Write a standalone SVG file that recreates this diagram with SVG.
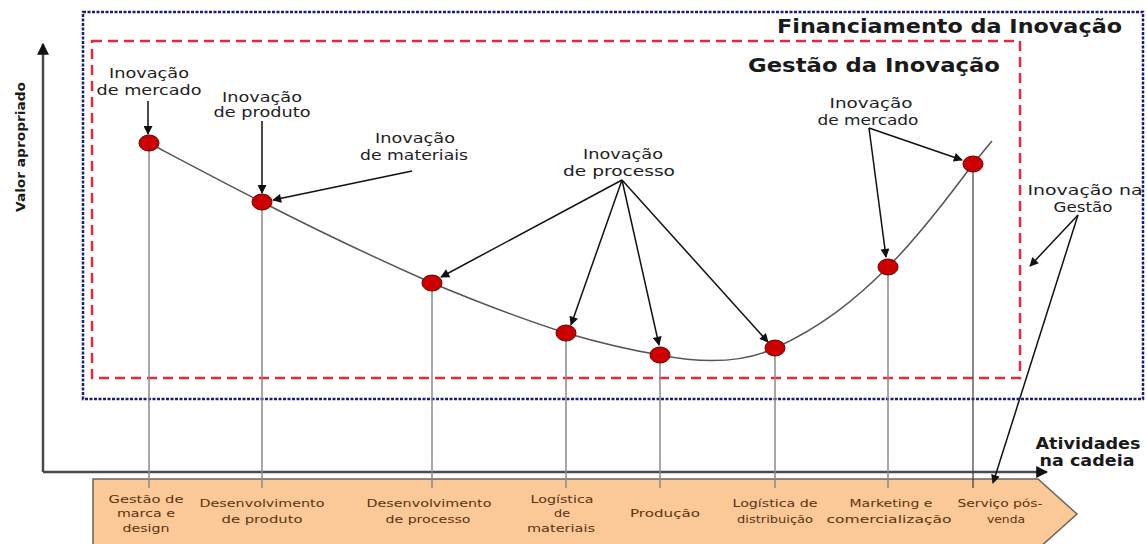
<svg xmlns="http://www.w3.org/2000/svg" width="1147" height="544" viewBox="0 0 1147 544">
<style>
.lbl{font-family:"DejaVu Sans","Verdana",sans-serif;font-size:14px;fill:#1e1e1e;text-anchor:middle}
.act{font-family:"DejaVu Sans","Verdana",sans-serif;font-size:11px;fill:#5a3410;text-anchor:middle}
.ttl{font-family:"DejaVu Sans","Verdana",sans-serif;font-weight:bold;fill:#1a1a1a}
.dot{fill:#cc0000;stroke:#6e0000;stroke-width:1}
.stem{stroke:#8a8a8a;stroke-width:1.5;fill:none}
.arr{stroke:#111;stroke-width:1.5;fill:none;marker-end:url(#ah)}
</style>
<defs>
<marker id="ah" viewBox="0 0 10 10" refX="9" refY="5" markerWidth="11" markerHeight="9" markerUnits="userSpaceOnUse" orient="auto">
<path d="M0,0 L10,5 L0,10 Z" fill="#111"/>
</marker>
<marker id="axh" viewBox="0 0 10 10" refX="9" refY="5" markerWidth="12" markerHeight="12" markerUnits="userSpaceOnUse" orient="auto">
<path d="M0,0 L10,5 L0,10 Z" fill="#111"/>
</marker>
</defs>
<rect width="1147" height="544" fill="#ffffff"/>

<g id="financiamento">
<rect x="83" y="12" width="1060" height="387" fill="none" stroke="#1c1c78" stroke-width="2.5" stroke-dasharray="3 1.5"/>
<text class="ttl" x="777" y="33" font-size="19" textLength="345" lengthAdjust="spacingAndGlyphs">Financiamento da Inovação</text>
</g>
<g id="gestao">
<rect x="92" y="41" width="928" height="337" fill="none" stroke="#e8283c" stroke-width="2.5" stroke-dasharray="10 6"/>
<text class="ttl" x="748" y="72" font-size="19" textLength="252" lengthAdjust="spacingAndGlyphs">Gestão da Inovação</text>
</g>

<g id="cadeia">
<path d="M93,479 L1038,479 L1077,514 L1038,549 L93,549 Z" fill="#fbc898" stroke="#6e6458" stroke-width="1.5"/>
<text class="act"><tspan x="146" y="503" textLength="75" lengthAdjust="spacingAndGlyphs">Gestão de</tspan><tspan x="146" y="517" textLength="58" lengthAdjust="spacingAndGlyphs">marca e</tspan><tspan x="146" y="532" textLength="47" lengthAdjust="spacingAndGlyphs">design</tspan></text>
<text class="act"><tspan x="262" y="507" textLength="125" lengthAdjust="spacingAndGlyphs">Desenvolvimento</tspan><tspan x="262" y="523" textLength="81" lengthAdjust="spacingAndGlyphs">de produto</tspan></text>
<text class="act"><tspan x="429" y="507" textLength="125" lengthAdjust="spacingAndGlyphs">Desenvolvimento</tspan><tspan x="428" y="523" textLength="85" lengthAdjust="spacingAndGlyphs">de processo</tspan></text>
<text class="act"><tspan x="562" y="503" textLength="63" lengthAdjust="spacingAndGlyphs">Logística</tspan><tspan x="562" y="517" textLength="16" lengthAdjust="spacingAndGlyphs">de</tspan><tspan x="561" y="532" textLength="68" lengthAdjust="spacingAndGlyphs">materiais</tspan></text>
<text class="act" x="665" y="517" textLength="70" lengthAdjust="spacingAndGlyphs">Produção</text>
<text class="act"><tspan x="775" y="507" textLength="85" lengthAdjust="spacingAndGlyphs">Logística de</tspan><tspan x="775" y="523" textLength="76" lengthAdjust="spacingAndGlyphs">distribuição</tspan></text>
<text class="act"><tspan x="891" y="507" textLength="83" lengthAdjust="spacingAndGlyphs">Marketing e</tspan><tspan x="889" y="523" textLength="125" lengthAdjust="spacingAndGlyphs">comercialização</tspan></text>
<text class="act"><tspan x="1000" y="507" textLength="85" lengthAdjust="spacingAndGlyphs">Serviço pós-</tspan><tspan x="1006" y="523" textLength="38" lengthAdjust="spacingAndGlyphs">venda</tspan></text>
</g>

<g id="eixos">
<path d="M43,472 L43,44" stroke="#4a4a4a" stroke-width="2.5" fill="none" marker-end="url(#axh)"/>
<path d="M43,472 L1047,472" stroke="#4a4a4a" stroke-width="2.5" fill="none" marker-end="url(#axh)"/>
<text class="ttl" font-size="13" text-anchor="middle" transform="translate(25,147) rotate(-90)" textLength="130" lengthAdjust="spacingAndGlyphs">Valor apropriado</text>
<text class="ttl" font-size="15" text-anchor="middle"><tspan x="1088" y="449" textLength="105" lengthAdjust="spacingAndGlyphs">Atividades</tspan><tspan x="1087" y="466" textLength="95" lengthAdjust="spacingAndGlyphs">na cadeia</tspan></text>
</g>

<g id="curva">
<path d="M149,143 C200,170 230,186 262,202 C320,232 380,260 432,283 C480,303 525,320 566,333 C600,343 630,350 660,355 C705,364 745,362 775,348 C820,328 855,300 888,267 C920,235 950,195 973,164 L992,141" fill="none" stroke="#555" stroke-width="1.5"/>
</g>

<g id="hastes">
<line class="stem" x1="149" y1="143" x2="149" y2="488"/>
<line class="stem" x1="262" y1="202" x2="262" y2="488"/>
<line class="stem" x1="432" y1="283" x2="432" y2="488"/>
<line class="stem" x1="566" y1="333" x2="566" y2="488"/>
<line class="stem" x1="660" y1="355" x2="660" y2="488"/>
<line class="stem" x1="775" y1="348" x2="775" y2="488"/>
<line class="stem" x1="888" y1="267" x2="888" y2="488"/>
<line x1="973" y1="164" x2="973" y2="488" stroke="#3a3a3a" stroke-width="1.2"/>
</g>

<g id="conectores">
<line class="arr" x1="148" y1="101" x2="148" y2="134"/>
<line class="arr" x1="262" y1="121" x2="262" y2="193"/>
<line class="arr" x1="412" y1="171" x2="273" y2="200"/>
<line class="arr" x1="622" y1="180" x2="441" y2="277"/>
<line class="arr" x1="622" y1="180" x2="571" y2="325"/>
<line class="arr" x1="622" y1="180" x2="659" y2="345"/>
<line class="arr" x1="622" y1="180" x2="768" y2="342"/>
<line class="arr" x1="869" y1="128" x2="962" y2="160"/>
<line class="arr" x1="869" y1="128" x2="886" y2="257"/>
<line class="arr" x1="1078" y1="215" x2="1030" y2="266"/>
<line class="arr" x1="1078" y1="215" x2="993" y2="483"/>
</g>

<g id="n1"><ellipse class="dot" cx="149" cy="143" rx="10" ry="8"/></g>
<g id="n2"><ellipse class="dot" cx="262" cy="202" rx="10" ry="8"/></g>
<g id="n3"><ellipse class="dot" cx="432" cy="283" rx="10" ry="8"/></g>
<g id="n4"><ellipse class="dot" cx="566" cy="333" rx="10" ry="8"/></g>
<g id="n5"><ellipse class="dot" cx="660" cy="355" rx="10" ry="8"/></g>
<g id="n6"><ellipse class="dot" cx="775" cy="348" rx="10" ry="8"/></g>
<g id="n7"><ellipse class="dot" cx="888" cy="267" rx="10" ry="8"/></g>
<g id="n8"><ellipse class="dot" cx="973" cy="164" rx="10" ry="8"/></g>

<g id="rotulos">
<text class="lbl"><tspan x="149" y="78" textLength="80" lengthAdjust="spacingAndGlyphs">Inovação</tspan><tspan x="149" y="95" textLength="105" lengthAdjust="spacingAndGlyphs">de mercado</tspan></text>
<text class="lbl"><tspan x="262" y="102" textLength="80" lengthAdjust="spacingAndGlyphs">Inovação</tspan><tspan x="262" y="117" textLength="97" lengthAdjust="spacingAndGlyphs">de produto</tspan></text>
<text class="lbl"><tspan x="415" y="143" textLength="80" lengthAdjust="spacingAndGlyphs">Inovação</tspan><tspan x="414" y="160" textLength="108" lengthAdjust="spacingAndGlyphs">de materiais</tspan></text>
<text class="lbl"><tspan x="623" y="159" textLength="80" lengthAdjust="spacingAndGlyphs">Inovação</tspan><tspan x="619" y="176" textLength="112" lengthAdjust="spacingAndGlyphs">de processo</tspan></text>
<text class="lbl"><tspan x="871" y="108" textLength="83" lengthAdjust="spacingAndGlyphs">Inovação</tspan><tspan x="868" y="125" textLength="101" lengthAdjust="spacingAndGlyphs">de mercado</tspan></text>
<text class="lbl"><tspan x="1085" y="195" textLength="115" lengthAdjust="spacingAndGlyphs">Inovação na</tspan><tspan x="1083" y="212" textLength="59" lengthAdjust="spacingAndGlyphs">Gestão</tspan></text>
</g>
</svg>
